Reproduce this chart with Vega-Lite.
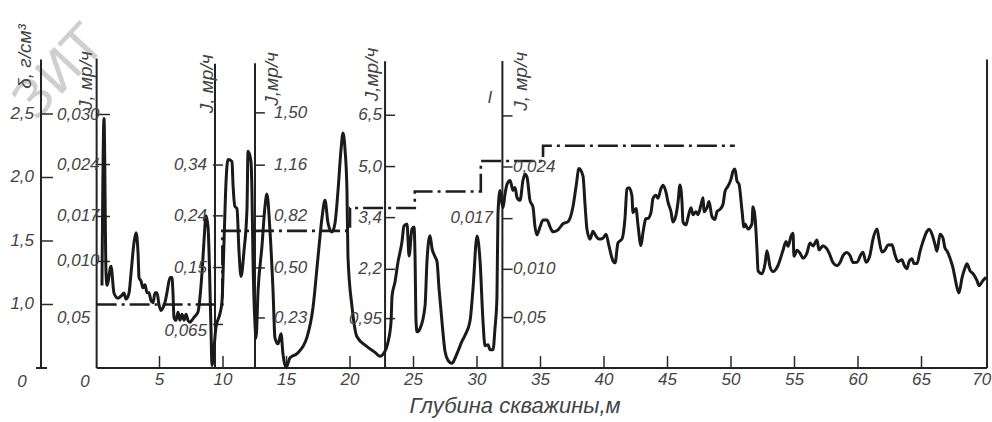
{
  "$schema": "https://vega.github.io/schema/vega-lite/v6.json",
  "width": 992,
  "height": 422,
  "autosize": "none",
  "padding": 0,
  "background": "#ffffff",
  "config": {
    "view": {"stroke": null},
    "text": {"font": "Liberation Sans", "fontStyle": "italic", "fill": "#444444"}
  },
  "datasets": {
    "gamma": [
      {"depth":0.47,"level":1.150},{"depth":0.63,"level":2.465},{"depth":0.79,"level":1.245},{"depth":0.87,"level":1.151},{"depth":1.18,"level":1.301},{"depth":1.42,"level":1.089},{"depth":1.73,"level":1.050},{"depth":2.05,"level":1.074},{"depth":2.20,"level":1.090},{"depth":2.36,"level":1.043},{"depth":2.60,"level":1.090},{"depth":2.76,"level":1.248},{"depth":2.99,"level":1.485},{"depth":3.15,"level":1.564},{"depth":3.31,"level":1.406},{"depth":3.39,"level":1.210},{"depth":3.54,"level":1.186},{"depth":3.70,"level":1.131},{"depth":3.86,"level":1.155},{"depth":4.02,"level":1.092},{"depth":4.17,"level":1.092},{"depth":4.33,"level":1.030},{"depth":4.49,"level":1.014},{"depth":4.65,"level":1.093},{"depth":4.80,"level":1.093},{"depth":4.96,"level":0.999},{"depth":5.12,"level":0.952},{"depth":5.28,"level":0.976},{"depth":5.43,"level":1.016},{"depth":5.59,"level":1.094},{"depth":5.83,"level":1.213},{"depth":5.98,"level":1.213},{"depth":6.06,"level":1.095},{"depth":6.14,"level":0.898},{"depth":6.30,"level":0.875},{"depth":6.46,"level":0.939},{"depth":6.61,"level":0.876},{"depth":6.77,"level":0.923},{"depth":6.93,"level":0.876},{"depth":7.09,"level":0.924},{"depth":7.24,"level":0.876},{"depth":7.40,"level":0.861},{"depth":7.56,"level":0.877},{"depth":7.80,"level":0.909},{"depth":8.03,"level":0.941},{"depth":8.19,"level":1.059},{"depth":8.35,"level":1.256},{"depth":8.50,"level":1.493},{"depth":8.66,"level":1.698},{"depth":8.82,"level":1.611},{"depth":8.90,"level":1.414},{"depth":8.98,"level":1.100},{"depth":9.06,"level":0.785},{"depth":9.13,"level":0.520},{"depth":9.45,"level":0.825},{"depth":9.76,"level":0.928},{"depth":9.92,"level":1.022},{"depth":10.08,"level":1.495},{"depth":10.24,"level":1.968},{"depth":10.39,"level":2.141},{"depth":10.71,"level":2.126},{"depth":10.79,"level":1.945},{"depth":10.94,"level":1.772},{"depth":11.10,"level":1.756},{"depth":11.26,"level":1.418},{"depth":11.42,"level":1.221},{"depth":11.65,"level":1.419},{"depth":11.89,"level":1.757},{"depth":11.97,"level":2.206},{"depth":12.20,"level":2.128},{"depth":12.28,"level":1.892},{"depth":12.36,"level":1.365},{"depth":12.52,"level":0.845},{"depth":12.60,"level":0.735},{"depth":12.76,"level":1.106},{"depth":13.07,"level":1.461},{"depth":13.31,"level":1.776},{"depth":13.46,"level":1.870},{"depth":13.70,"level":1.579},{"depth":13.94,"level":1.107},{"depth":14.09,"level":0.737},{"depth":14.33,"level":0.690},{"depth":14.57,"level":0.769},{"depth":14.72,"level":0.612},{"depth":14.96,"level":0.502},{"depth":15.28,"level":0.581},{"depth":15.83,"level":0.613},{"depth":16.61,"level":0.741},{"depth":17.09,"level":0.978},{"depth":17.48,"level":1.372},{"depth":17.80,"level":1.687},{"depth":18.03,"level":1.821},{"depth":18.27,"level":1.641},{"depth":18.58,"level":1.570},{"depth":18.82,"level":1.641},{"depth":19.06,"level":1.902},{"depth":19.29,"level":2.217},{"depth":19.45,"level":2.351},{"depth":19.61,"level":2.218},{"depth":19.76,"level":1.903},{"depth":19.84,"level":1.376},{"depth":20.16,"level":0.982},{"depth":20.55,"level":0.746},{"depth":21.34,"level":0.669},{"depth":21.97,"level":0.623},{"depth":22.36,"level":0.592},{"depth":22.60,"level":0.608},{"depth":22.99,"level":0.703},{"depth":23.23,"level":0.861},{"depth":23.31,"level":1.065},{"depth":23.54,"level":1.176},{"depth":23.78,"level":1.334},{"depth":24.09,"level":1.492},{"depth":24.25,"level":1.618},{"depth":24.49,"level":1.634},{"depth":24.65,"level":1.382},{"depth":24.88,"level":1.595},{"depth":25.04,"level":1.611},{"depth":25.12,"level":1.383},{"depth":25.20,"level":0.864},{"depth":25.28,"level":0.785},{"depth":25.51,"level":0.809},{"depth":25.91,"level":0.991},{"depth":26.06,"level":1.337},{"depth":26.30,"level":1.542},{"depth":26.46,"level":1.440},{"depth":26.69,"level":1.377},{"depth":26.85,"level":1.338},{"depth":27.01,"level":1.126},{"depth":27.24,"level":0.867},{"depth":27.48,"level":0.631},{"depth":27.72,"level":0.560},{"depth":28.03,"level":0.537},{"depth":28.27,"level":0.577},{"depth":28.50,"level":0.632},{"depth":28.82,"level":0.711},{"depth":29.06,"level":0.759},{"depth":29.45,"level":0.870},{"depth":29.69,"level":1.130},{"depth":30.00,"level":1.540},{"depth":30.24,"level":1.343},{"depth":30.47,"level":0.871},{"depth":30.63,"level":0.675},{"depth":30.87,"level":0.683},{"depth":31.02,"level":0.644},{"depth":31.26,"level":0.644},{"depth":31.42,"level":0.817},{"depth":31.57,"level":1.054},{"depth":31.65,"level":1.708},{"depth":31.81,"level":1.897},{"depth":31.89,"level":1.842},{"depth":32.05,"level":1.763},{"depth":32.20,"level":1.866},{"depth":32.36,"level":1.945},{"depth":32.60,"level":1.977},{"depth":32.76,"level":1.922},{"depth":32.83,"level":1.898},{"depth":32.99,"level":1.922},{"depth":33.15,"level":1.843},{"depth":33.39,"level":1.820},{"depth":33.62,"level":1.978},{"depth":33.78,"level":2.026},{"depth":33.94,"level":2.002},{"depth":34.17,"level":1.821},{"depth":34.41,"level":1.767},{"depth":34.57,"level":1.609},{"depth":34.72,"level":1.547},{"depth":34.96,"level":1.610},{"depth":35.20,"level":1.665},{"depth":35.51,"level":1.666},{"depth":35.75,"level":1.611},{"depth":35.98,"level":1.572},{"depth":36.38,"level":1.588},{"depth":36.77,"level":1.636},{"depth":37.17,"level":1.653},{"depth":37.56,"level":1.772},{"depth":37.80,"level":1.929},{"depth":38.03,"level":2.071},{"depth":38.35,"level":2.009},{"depth":38.50,"level":1.796},{"depth":38.66,"level":1.592},{"depth":38.90,"level":1.514},{"depth":39.13,"level":1.577},{"depth":39.37,"level":1.538},{"depth":39.61,"level":1.515},{"depth":39.92,"level":1.523},{"depth":40.16,"level":1.554},{"depth":40.39,"level":1.461},{"depth":40.71,"level":1.343},{"depth":40.87,"level":1.328},{"depth":41.10,"level":1.485},{"depth":41.42,"level":1.517},{"depth":41.65,"level":1.675},{"depth":41.81,"level":1.911},{"depth":41.97,"level":1.920},{"depth":42.20,"level":1.857},{"depth":42.28,"level":1.723},{"depth":42.52,"level":1.755},{"depth":42.68,"level":1.621},{"depth":42.91,"level":1.464},{"depth":43.07,"level":1.567},{"depth":43.31,"level":1.677},{"depth":43.46,"level":1.677},{"depth":43.70,"level":1.725},{"depth":43.86,"level":1.836},{"depth":44.09,"level":1.860},{"depth":44.25,"level":1.836},{"depth":44.49,"level":1.915},{"depth":44.65,"level":1.939},{"depth":44.88,"level":1.884},{"depth":45.04,"level":1.806},{"depth":45.28,"level":1.728},{"depth":45.43,"level":1.649},{"depth":45.67,"level":1.705},{"depth":45.83,"level":1.807},{"depth":45.98,"level":1.941},{"depth":46.14,"level":1.808},{"depth":46.22,"level":1.650},{"depth":46.46,"level":1.627},{"depth":46.61,"level":1.683},{"depth":46.85,"level":1.762},{"depth":47.01,"level":1.707},{"depth":47.24,"level":1.731},{"depth":47.40,"level":1.707},{"depth":47.64,"level":1.786},{"depth":47.80,"level":1.841},{"depth":47.87,"level":1.731},{"depth":48.11,"level":1.763},{"depth":48.27,"level":1.811},{"depth":48.50,"level":1.693},{"depth":48.74,"level":1.670},{"depth":48.90,"level":1.733},{"depth":49.13,"level":1.749},{"depth":49.37,"level":1.789},{"depth":49.53,"level":1.891},{"depth":49.76,"level":1.931},{"depth":50.00,"level":1.987},{"depth":50.16,"level":2.050},{"depth":50.31,"level":2.066},{"depth":50.47,"level":1.972},{"depth":50.63,"level":1.948},{"depth":50.87,"level":1.736},{"depth":51.02,"level":1.610},{"depth":51.10,"level":1.634},{"depth":51.34,"level":1.595},{"depth":51.65,"level":1.635},{"depth":51.73,"level":1.769},{"depth":51.89,"level":1.690},{"depth":52.05,"level":1.423},{"depth":52.13,"level":1.265},{"depth":52.44,"level":1.242},{"depth":52.68,"level":1.321},{"depth":52.83,"level":1.424},{"depth":53.07,"level":1.298},{"depth":53.31,"level":1.259},{"depth":53.70,"level":1.307},{"depth":54.09,"level":1.425},{"depth":54.33,"level":1.497},{"depth":54.49,"level":1.458},{"depth":54.72,"level":1.536},{"depth":54.88,"level":1.561},{"depth":54.96,"level":1.380},{"depth":55.20,"level":1.427},{"depth":55.43,"level":1.404},{"depth":55.67,"level":1.365},{"depth":55.98,"level":1.405},{"depth":56.22,"level":1.484},{"depth":56.46,"level":1.461},{"depth":56.77,"level":1.508},{"depth":56.93,"level":1.430},{"depth":57.24,"level":1.462},{"depth":57.48,"level":1.446},{"depth":57.72,"level":1.407},{"depth":58.03,"level":1.329},{"depth":58.35,"level":1.306},{"depth":58.58,"level":1.330},{"depth":58.82,"level":1.385},{"depth":59.13,"level":1.409},{"depth":59.37,"level":1.386},{"depth":59.61,"level":1.331},{"depth":59.92,"level":1.332},{"depth":60.24,"level":1.395},{"depth":60.39,"level":1.411},{"depth":60.63,"level":1.333},{"depth":60.94,"level":1.388},{"depth":61.18,"level":1.514},{"depth":61.50,"level":1.594},{"depth":61.65,"level":1.515},{"depth":61.89,"level":1.413},{"depth":62.13,"level":1.429},{"depth":62.36,"level":1.469},{"depth":62.68,"level":1.470},{"depth":62.91,"level":1.391},{"depth":63.15,"level":1.337},{"depth":63.46,"level":1.353},{"depth":63.62,"level":1.313},{"depth":63.86,"level":1.282},{"depth":64.02,"level":1.338},{"depth":64.25,"level":1.361},{"depth":64.41,"level":1.322},{"depth":64.65,"level":1.323},{"depth":64.88,"level":1.417},{"depth":65.12,"level":1.497},{"depth":65.43,"level":1.576},{"depth":65.59,"level":1.592},{"depth":65.83,"level":1.553},{"depth":66.06,"level":1.474},{"depth":66.22,"level":1.420},{"depth":66.46,"level":1.554},{"depth":66.69,"level":1.523},{"depth":66.85,"level":1.444},{"depth":67.01,"level":1.421},{"depth":67.24,"level":1.366},{"depth":67.48,"level":1.288},{"depth":67.64,"level":1.209},{"depth":67.80,"level":1.131},{"depth":67.95,"level":1.091},{"depth":68.19,"level":1.210},{"depth":68.43,"level":1.289},{"depth":68.58,"level":1.321},{"depth":68.82,"level":1.266},{"depth":69.06,"level":1.243},{"depth":69.37,"level":1.188},{"depth":69.53,"level":1.149},{"depth":69.84,"level":1.189},{"depth":70.08,"level":1.213}
    ],
    "density": [
      {"depth":0.05,"level":1.0},{"depth":9.95,"level":1.58},{"depth":20.0,"level":1.76},{"depth":25.1,"level":1.89},{"depth":30.3,"level":2.13},{"depth":35.2,"level":2.25},{"depth":50.3,"level":2.25}
    ],
    "axes": [
      {"depth":-4.33,"depth2":-4.33,"level":0.5,"level2":2.93},
      {"depth":-4.72,"depth2":-3.86,"level":0.5,"level2":0.5},
      {"depth":0.05,"depth2":0.05,"level":0.5,"level2":2.937},
      {"depth":9.37,"depth2":9.37,"level":0.5,"level2":2.895},
      {"depth":12.52,"depth2":12.52,"level":0.5,"level2":2.90},
      {"depth":22.76,"depth2":22.76,"level":0.5,"level2":2.915},
      {"depth":32.0,"depth2":32.0,"level":0.5,"level2":2.918},
      {"depth":70.16,"depth2":70.16,"level":0.5,"level2":2.93},
      {"depth":0.05,"depth2":70.16,"level":0.5,"level2":0.5}
    ],
    "ticks": [
      {"depth":-4.33,"depth2":-3.39,"level":1.0,"level2":1.0},
      {"depth":-4.33,"depth2":-3.39,"level":1.5,"level2":1.5},
      {"depth":-4.33,"depth2":-3.39,"level":2.0,"level2":2.0},
      {"depth":-4.33,"depth2":-3.39,"level":2.5,"level2":2.5},
      {"depth":0.05,"depth2":1.1,"level":2.496,"level2":2.496},
      {"depth":0.05,"depth2":1.1,"level":2.102,"level2":2.102},
      {"depth":0.05,"depth2":1.1,"level":1.693,"level2":1.693},
      {"depth":0.05,"depth2":1.1,"level":1.339,"level2":1.339},
      {"depth":9.2,"depth2":10.0,"level":2.098,"level2":2.098},
      {"depth":9.2,"depth2":10.0,"level":1.698,"level2":1.698},
      {"depth":9.2,"depth2":10.0,"level":1.291,"level2":1.291},
      {"depth":9.2,"depth2":10.0,"level":0.843,"level2":0.843},
      {"depth":12.52,"depth2":13.3,"level":2.509,"level2":2.509},
      {"depth":12.52,"depth2":13.3,"level":2.097,"level2":2.097},
      {"depth":12.52,"depth2":13.3,"level":1.695,"level2":1.695},
      {"depth":12.52,"depth2":13.3,"level":1.288,"level2":1.288},
      {"depth":12.52,"depth2":13.3,"level":0.894,"level2":0.894},
      {"depth":22.76,"depth2":23.55,"level":2.490,"level2":2.490},
      {"depth":22.76,"depth2":23.55,"level":2.086,"level2":2.086},
      {"depth":22.76,"depth2":23.55,"level":1.684,"level2":1.684},
      {"depth":22.76,"depth2":23.55,"level":1.277,"level2":1.277},
      {"depth":22.76,"depth2":23.55,"level":0.889,"level2":0.889},
      {"depth":32.0,"depth2":32.8,"level":2.485,"level2":2.485},
      {"depth":32.0,"depth2":32.8,"level":2.083,"level2":2.083},
      {"depth":32.0,"depth2":32.8,"level":1.676,"level2":1.676},
      {"depth":32.0,"depth2":32.8,"level":1.277,"level2":1.277},
      {"depth":32.0,"depth2":32.8,"level":0.897,"level2":0.897},
      {"depth":5,"depth2":5,"level":0.5,"level2":0.594},
      {"depth":10,"depth2":10,"level":0.5,"level2":0.594},
      {"depth":15,"depth2":15,"level":0.5,"level2":0.594},
      {"depth":20,"depth2":20,"level":0.5,"level2":0.594},
      {"depth":25,"depth2":25,"level":0.5,"level2":0.594},
      {"depth":30,"depth2":30,"level":0.5,"level2":0.594},
      {"depth":35,"depth2":35,"level":0.5,"level2":0.594},
      {"depth":40,"depth2":40,"level":0.5,"level2":0.594},
      {"depth":45,"depth2":45,"level":0.5,"level2":0.594},
      {"depth":50,"depth2":50,"level":0.5,"level2":0.594},
      {"depth":55,"depth2":55,"level":0.5,"level2":0.594},
      {"depth":60,"depth2":60,"level":0.5,"level2":0.594},
      {"depth":65,"depth2":65,"level":0.5,"level2":0.594}
    ],
    "labelsRight": [
      {"depth":-4.88,"level":1.0,"text":"1,0"},{"depth":-4.88,"level":1.5,"text":"1,5"},{"depth":-4.88,"level":2.0,"text":"2,0"},{"depth":-4.88,"level":2.5,"text":"2,5"},
      {"depth":8.74,"level":2.098,"text":"0,34"},{"depth":8.74,"level":1.698,"text":"0,24"},{"depth":8.74,"level":1.291,"text":"0,15"},{"depth":8.74,"level":0.79,"text":"0,065"},
      {"depth":22.52,"level":2.490,"text":"6,5"},{"depth":22.52,"level":2.086,"text":"5,0"},{"depth":22.52,"level":1.684,"text":"3,4"},{"depth":22.52,"level":1.277,"text":"2,2"},{"depth":22.52,"level":0.889,"text":"0,95"},
      {"depth":31.26,"level":1.683,"text":"0,017"}
    ],
    "labelsLeft": [
      {"depth":-3.07,"level":2.496,"text":"0,030"},{"depth":-3.07,"level":2.102,"text":"0,024"},{"depth":-3.07,"level":1.693,"text":"0,017"},{"depth":-3.07,"level":1.339,"text":"0,010"},{"depth":-3.07,"level":0.896,"text":"0,05"},
      {"depth":14.02,"level":2.509,"text":"1,50"},{"depth":14.02,"level":2.097,"text":"1,16"},{"depth":14.02,"level":1.695,"text":"0,82"},{"depth":14.02,"level":1.288,"text":"0,50"},{"depth":14.02,"level":0.894,"text":"0,23"},
      {"depth":32.83,"level":2.083,"text":"0,024"},{"depth":32.83,"level":1.277,"text":"0,010"},{"depth":32.83,"level":0.897,"text":"0,05"}
    ],
    "labelsCenter": [
      {"depth":-5.83,"level":0.39,"text":"0"},{"depth":-0.87,"level":0.39,"text":"0"},
      {"depth":5,"level":0.4055,"text":"5"},{"depth":10,"level":0.4055,"text":"10"},{"depth":15,"level":0.4055,"text":"15"},{"depth":20,"level":0.4055,"text":"20"},{"depth":25,"level":0.4055,"text":"25"},{"depth":30,"level":0.4055,"text":"30"},{"depth":35,"level":0.4055,"text":"35"},{"depth":40,"level":0.4055,"text":"40"},{"depth":45,"level":0.4055,"text":"45"},{"depth":50,"level":0.4055,"text":"50"},{"depth":55,"level":0.4055,"text":"55"},{"depth":60,"level":0.4055,"text":"60"},{"depth":65,"level":0.4055,"text":"65"},{"depth":69.75,"level":0.4055,"text":"70"},
      {"depth":31.02,"level":2.628,"text":"I"}
    ],
    "titles": [
      {"depth":-5.59,"level":2.953,"text":"δ, г/см³"},
      {"depth":-0.79,"level":2.763,"text":"J, мр/ч"},
      {"depth":8.74,"level":2.737,"text":"J, мр/ч"},
      {"depth":13.86,"level":2.776,"text":"J,мр/ч"},
      {"depth":21.73,"level":2.811,"text":"J,мр/ч"},
      {"depth":33.46,"level":2.757,"text":"J, мр/ч"}
    ],
    "caption": [
      {"depth":33.0,"level":0.197,"text":"Глубина скважины,м"}
    ],
    "watermark": [
      {"depth":-4.72,"level":2.437,"text":"ЗИТ"}
    ]
  },
  "encoding": {
    "x": {"field":"depth","type":"quantitative","scale":{"domain":[-7.559,70.551],"nice":false,"zero":false},"axis":null},
    "y": {"field":"level","type":"quantitative","scale":{"domain":[0.0748,3.3976],"nice":false,"zero":false},"axis":null}
  },
  "layer": [
    {"data":{"name":"watermark"},"mark":{"type":"text","align":"left","baseline":"alphabetic","angle":313,"fontSize":52,"font":"DejaVu Sans","fontStyle":"normal","fill":"#cfcfcf"},"encoding":{"text":{"field":"text"}}},
    {"data":{"name":"axes"},"mark":{"type":"rule","stroke":"#222222","strokeWidth":2},"encoding":{"x2":{"field":"depth2"},"y2":{"field":"level2"}}},
    {"data":{"name":"ticks"},"mark":{"type":"rule","stroke":"#2a2a2a","strokeWidth":1.5},"encoding":{"x2":{"field":"depth2"},"y2":{"field":"level2"}}},
    {"data":{"name":"density"},"mark":{"type":"line","interpolate":"step-after","stroke":"#1e1e1e","strokeWidth":2.6,"strokeDash":[20,5,3,5]}},
    {"data":{"name":"gamma"},"mark":{"type":"line","interpolate":"monotone","stroke":"#1a1a1a","strokeWidth":3,"strokeJoin":"round"}},
    {"data":{"name":"labelsRight"},"mark":{"type":"text","align":"right","baseline":"middle","fontSize":17},"encoding":{"text":{"field":"text"}}},
    {"data":{"name":"labelsLeft"},"mark":{"type":"text","align":"left","baseline":"middle","fontSize":17},"encoding":{"text":{"field":"text"}}},
    {"data":{"name":"labelsCenter"},"mark":{"type":"text","align":"center","baseline":"middle","fontSize":17},"encoding":{"text":{"field":"text"}}},
    {"data":{"name":"titles"},"mark":{"type":"text","align":"center","baseline":"middle","angle":270,"fontSize":19},"encoding":{"text":{"field":"text"}}},
    {"data":{"name":"caption"},"mark":{"type":"text","align":"center","baseline":"middle","fontSize":22},"encoding":{"text":{"field":"text"}}}
  ]
}
